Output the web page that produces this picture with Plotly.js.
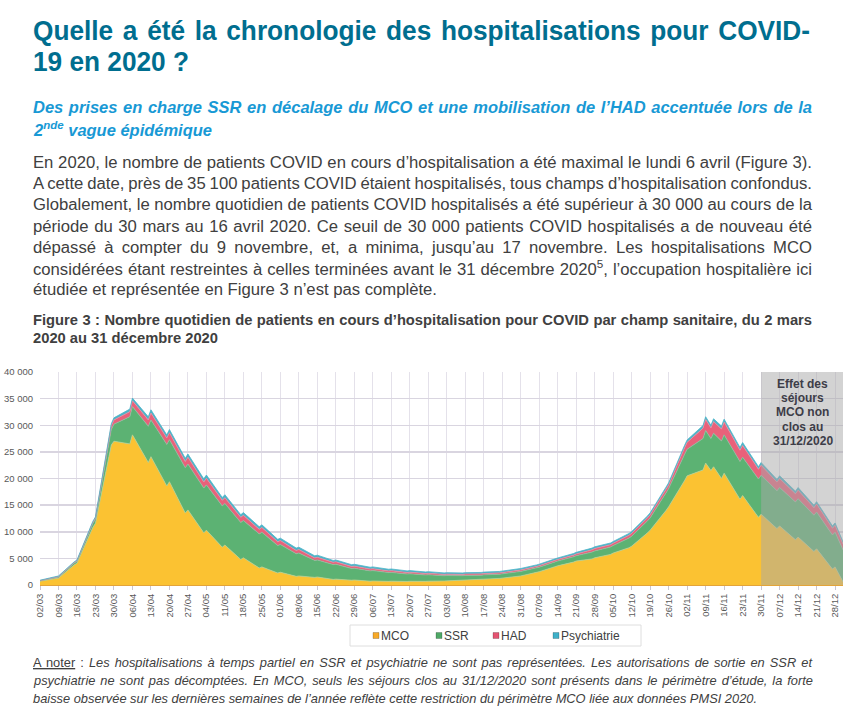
<!DOCTYPE html>
<html><head><meta charset="utf-8">
<script src="https://cdn.plot.ly/plotly-3.0.1.min.js"></script>
<style>html,body{margin:0;padding:0;background:#fff}#chart{width:865px;height:717px}</style>
</head><body><div id="chart"></div>
<script>
// ---- DATA ----
const dates = [
"2020-03-02","2020-03-08","2020-03-09","2020-03-15","2020-03-16","2020-03-22","2020-03-23","2020-03-29","2020-03-30","2020-04-05",
"2020-04-06","2020-04-12","2020-04-13","2020-04-19","2020-04-20","2020-04-26","2020-04-27","2020-05-03","2020-05-04","2020-05-10",
"2020-05-11","2020-05-17","2020-05-18","2020-05-24","2020-05-25","2020-05-31","2020-06-01","2020-06-07","2020-06-08","2020-06-14",
"2020-06-15","2020-06-21","2020-06-22","2020-06-28","2020-06-29","2020-07-05","2020-07-06","2020-07-12","2020-07-13","2020-07-19",
"2020-07-20","2020-07-26","2020-07-27","2020-08-02","2020-08-03","2020-08-09","2020-08-10","2020-08-16","2020-08-17","2020-08-23",
"2020-08-24","2020-08-30","2020-08-31","2020-09-06","2020-09-07","2020-09-13","2020-09-14","2020-09-20","2020-09-21","2020-09-27",
"2020-09-28","2020-10-04","2020-10-05","2020-10-11","2020-10-12","2020-10-18","2020-10-19","2020-10-25","2020-10-26","2020-11-01",
"2020-11-02","2020-11-08","2020-11-09","2020-11-11","2020-11-12","2020-11-15","2020-11-16","2020-11-22","2020-11-23","2020-11-29",
"2020-11-30","2020-12-06","2020-12-07","2020-12-13","2020-12-14","2020-12-20","2020-12-21","2020-12-27","2020-12-28","2020-12-31"];
const mco = [700,1200,1300,3800,4100,10800,11600,26300,27000,26500,
28200,23000,24100,18600,19400,13500,14100,9800,10300,7100,
7500,4800,5100,3200,3400,2250,2400,1620,1700,1430,
1500,1050,1100,900,940,720,750,690,720,670,
700,690,720,750,780,860,900,1050,1100,1240,
1300,1620,1700,2380,2500,3450,3600,4300,4500,4900,
5100,5750,6000,7000,7300,9800,10300,14000,14700,19600,
20500,21600,22900,21500,22200,20000,21000,16100,16800,12700,
13300,10600,11100,8500,9000,6300,6800,3000,3400,600];
const ssr = [100,190,200,330,350,750,800,2900,3200,5100,
5300,6800,6900,7800,7900,8500,8600,8400,8500,7750,
7800,6950,7000,6400,6500,5150,5200,4250,4300,3180,
3200,2780,2800,2180,2200,1930,1950,1640,1650,1390,
1400,1190,1200,990,1000,890,900,790,800,790,
800,840,850,840,850,890,900,990,1000,1280,
1300,1380,1400,1820,1850,2250,2300,3300,3400,4900,
5000,5900,6100,6000,6300,7050,7200,7100,7200,7200,
7300,7100,7200,7100,7200,6800,6900,6400,6500,6000];
const had = [30,55,60,95,100,190,200,700,800,950,
1100,1200,1300,1200,1300,1200,1300,1150,1250,1050,
1100,950,1000,850,900,720,750,620,650,480,
500,430,450,390,400,340,350,310,320,290,
300,270,280,255,260,245,250,245,250,245,
250,265,270,275,280,290,300,320,330,430,
450,440,450,530,550,580,600,680,700,1250,
1300,1950,2100,2000,2200,2250,2400,2100,2200,1820,
1900,1630,1700,1530,1600,1430,1500,1250,1300,1100];
const psy = [70,130,140,150,150,200,200,380,400,480,
500,580,600,580,600,580,600,580,600,540,
550,500,500,490,500,450,450,440,450,390,
400,350,350,345,350,345,350,320,320,300,
300,300,300,280,280,270,270,270,270,270,
270,280,280,280,280,280,280,300,300,320,
320,320,320,330,330,350,350,400,400,450,
450,490,500,490,520,540,550,540,550,500,
500,500,500,490,500,450,450,450,450,400];
const seriesNames = ["MCO","SSR","HAD","Psychiatrie"];
const seriesValues = [mco, ssr, had, psy];
const seriesColors = ["#fbc232","#5cb273","#e9617a","#4bb4c8"];
const seriesLines  = ["#b9cf8e","#86c0a0","#ec8aa0","#4bb4c8"];
const legendSquares = ["#f7a928","#4fa866","#e45472","#3fb0c8"];
const shadedStart = "2020-11-30", shadedEnd = "2020-12-31";
const shadedLabel = ["Effet des","séjours","MCO non","clos au","31/12/2020"];

// ---- page texts ----
const FONT = "Liberation Sans, Arial, sans-serif";
const TITLE_C = "#006e8f", SUB_C = "#1899d5", TXT_C = "#404040";
// blk: text block; fit: right edge (px) of the line in the reference
const pageLines = [
 {b:0, t:"Quelle a été la chronologie des hospitalisations pour COVID-", y:31, size:27, w:"bold", c:TITLE_C, fit:810, j:1},
 {b:0, t:"19 en 2020 ?", y:62, size:27, w:"bold", c:TITLE_C, fit:189},
 {b:1, t:"Des prises en charge SSR en décalage du MCO et une mobilisation de l’HAD accentuée lors de la", y:107, size:16, w:"bold", s:"italic", c:SUB_C, fit:812, j:1},
 {b:1, t:"2<sup>nde</sup> vague épidémique", y:129, size:16, w:"bold", s:"italic", c:SUB_C, fit:211},
 {b:2, t:"En 2020, le nombre de patients COVID en cours d’hospitalisation a été maximal le lundi 6 avril (Figure 3).", y:162, size:16, c:TXT_C, fit:812, j:1},
 {b:2, t:"A cette date, près de 35 100 patients COVID étaient hospitalisés, tous champs d’hospitalisation confondus.", y:183, size:16, c:TXT_C, fit:812, j:1},
 {b:2, t:"Globalement, le nombre quotidien de patients COVID hospitalisés a été supérieur à 30 000 au cours de la", y:204, size:16, c:TXT_C, fit:812, j:1},
 {b:2, t:"période du 30 mars au 16 avril 2020. Ce seuil de 30 000 patients COVID hospitalisés a de nouveau été", y:226, size:16, c:TXT_C, fit:812, j:1},
 {b:2, t:"dépassé à compter du 9 novembre, et, a minima, jusqu’au 17 novembre. Les hospitalisations MCO", y:247, size:16, c:TXT_C, fit:812, j:1},
 {b:2, t:"considérées étant restreintes à celles terminées avant le 31 décembre 2020<sup>5</sup>, l’occupation hospitalière ici", y:268, size:16, c:TXT_C, fit:812, j:1},
 {b:2, t:"étudiée et représentée en Figure 3 n’est pas complète.", y:289, size:16, c:TXT_C, fit:437},
 {b:3, t:"Figure 3 : Nombre quotidien de patients en cours d’hospitalisation pour COVID par champ sanitaire, du 2 mars", y:320, size:14.5, w:"bold", c:TXT_C, fit:812, j:1},
 {b:3, t:"2020 au 31 décembre 2020", y:338, size:14.5, w:"bold", c:TXT_C, fit:218},
 {b:4, t:"<span style='text-decoration:underline'>A noter</span> : <i>Les hospitalisations à temps partiel en SSR et psychiatrie ne sont pas représentées. Les autorisations de sortie en SSR et</i>", y:662, size:13.5, c:TXT_C, fit:812, j:1},
 {b:4, t:"<i>psychiatrie ne sont pas décomptées. En MCO, seuls les séjours clos au 31/12/2020 sont présents dans le périmètre d’étude, la forte</i>", y:680, size:13.5, c:TXT_C, fit:812, j:1},
 {b:4, t:"<i>baisse observée sur les dernières semaines de l’année reflète cette restriction du périmètre MCO liée aux données PMSI 2020.</i>", y:698, size:13.5, c:TXT_C, fit:757}
];

// ---- geometry helpers (pixel -> paper) ----
const M = {l:40, r:22, t:372, b:132};
const PW = 865 - M.l - M.r, PH = 717 - M.t - M.b;
const px = x => (x - M.l) / PW;
const py = y => (717 - M.b - y) / PH;

const traces = seriesNames.map((n, i) => ({
  type: "scatter", mode: "lines", name: n, x: dates, y: seriesValues[i],
  stackgroup: "one", fillcolor: seriesColors[i],
  line: {color: seriesLines[i], width: 0.8, shape: "linear"},
  showlegend: false, hoverinfo: "skip"
}));

const annotations = [];
pageLines.forEach(l => annotations.push({
  xref:"paper", yref:"paper", x:px(33), y:py(l.y), xanchor:"left", yanchor:"middle",
  align:"left", showarrow:false, text:l.t, borderpad:0, borderwidth:0,
  font:{family:FONT, size:l.size, color:l.c, weight:l.w||"normal", style:l.s||"normal"}
}));
shadedLabel.forEach((s, k) => annotations.push({
  xref:"paper", yref:"paper", x:px(802.5), y:py(384 + 14.2*k), xanchor:"center", yanchor:"middle",
  showarrow:false, text:s, font:{family:FONT, size:12, color:"#3d3d48", weight:"bold"}
}));
const legX = [373, 436, 493, 553];
seriesNames.forEach((n, i) => annotations.push({
  xref:"paper", yref:"paper", x:px(legX[i] + 8), y:py(635.5), xanchor:"left", yanchor:"middle",
  showarrow:false, text:n, borderpad:0, borderwidth:0, font:{family:FONT, size:12, color:"#404040"}
}));

const shapes = [
  {type:"rect", xref:"x", yref:"y", x0:shadedStart, x1:shadedEnd, y0:0, y1:40000,
   fillcolor:"rgba(168,168,168,0.5)", line:{width:0}, layer:"above"},
  {type:"rect", xref:"paper", yref:"paper", x0:px(350), x1:px(641), y0:py(625), y1:py(646),
   fillcolor:"rgba(0,0,0,0)", line:{color:"#dedede", width:1}}
];
seriesNames.forEach((n, i) => shapes.push({
  type:"rect", xref:"paper", yref:"paper", x0:px(legX[i]), x1:px(legX[i]+6), y0:py(638.5), y1:py(632.5),
  fillcolor:legendSquares[i], line:{color:"rgba(0,0,0,0.25)", width:0.8}
}));

const layout = {
  width:865, height:717, margin:{l:M.l, r:M.r, t:M.t, b:M.b, pad:0},
  paper_bgcolor:"#fff", plot_bgcolor:"#fff", showlegend:false,
  separators:", ",
  font:{family:FONT, color:"#595959"},
  xaxis:{type:"date", range:["2020-03-02","2020-12-31"], tick0:"2020-03-02", dtick:604800000,
    tickformat:"%d/%m", tickangle:-90, tickfont:{size:9.5, color:"#595959"},
    showgrid:true, gridcolor:"#e4e1ea", gridwidth:1, ticks:"outside", ticklen:4, tickcolor:"#c9c5d2",
    showline:true, linecolor:"#e3a43a", linewidth:1, zeroline:false, fixedrange:true},
  yaxis:{range:[0,40000], dtick:5000, tickformat:",d", tickfont:{size:9.5, color:"#595959"},
    showgrid:true, gridcolor:"#d9d5e0", gridwidth:1.5, zeroline:false, showline:false, ticks:"",
    ticklabelstandoff:6, fixedrange:true},
  annotations, shapes
};

// justify the page lines to the reference line ends
function fitText(gd) {
  const left0 = gd.getBoundingClientRect().left;
  const info = pageLines.map((l, i) => {
    const t = gd.querySelector('.annotation[data-index="' + i + '"] text.annotation-text');
    if (!t) return null;
    const left = t.getBoundingClientRect().left - left0;
    return {t, left, nat: t.getComputedTextLength(), n: (t.textContent.match(/ /g) || []).length};
  });
  const blocks = [...new Set(pageLines.map(l => l.b))];
  blocks.forEach(b => {
    const idx = pageLines.map((l, i) => i).filter(i => pageLines[i].b === b && info[i]);
    const lastI = idx.filter(i => !pageLines[i].j).pop();
    let k = 1;
    if (lastI !== undefined) {
      const L = info[lastI];
      k = (pageLines[lastI].fit - L.left) / L.nat;
      k = Math.min(1.06, Math.max(0.85, k));
    }
    idx.forEach(i => {
      const L = info[i], target = pageLines[i].fit - L.left;
      if (pageLines[i].j && L.n > 0) {
        const want = target / k;
        const ws = Math.max(-1, (want - L.nat) / L.n);
        L.t.style.wordSpacing = ws.toFixed(3) + "px";
      }
      L.t.setAttribute("textLength", target.toFixed(2));
      L.t.setAttribute("lengthAdjust", "spacingAndGlyphs");
    });
  });
}

const gd = document.getElementById("chart");
Plotly.newPlot(gd, traces, layout, {staticPlot:true, displayModeBar:false}).then(() => fitText(gd));
</script></body></html>
